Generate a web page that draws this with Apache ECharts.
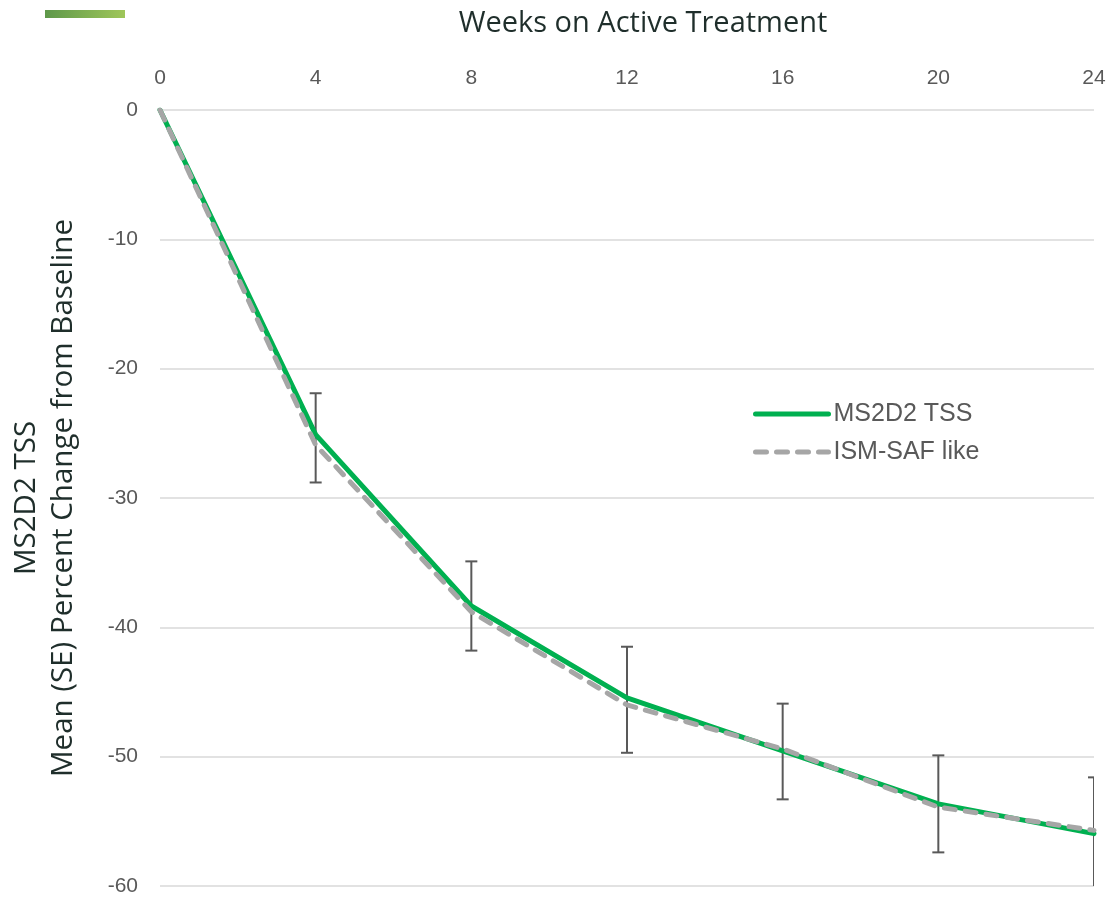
<!DOCTYPE html>
<html>
<head>
<meta charset="utf-8">
<script src="https://cdn.jsdelivr.net/npm/echarts@6/dist/echarts.min.js"></script>
<style>html,body{margin:0;padding:0;background:#fff;}#c{width:1109px;height:898px;}</style>
</head>
<body>
<div id="c"></div>
<script>
const weeks = [0, 4, 8, 12, 16, 20, 24];
const ms2d2 = [0, -25.1, -38.35, -45.45, -49.55, -53.65, -55.95];
const ismSaf = [0, -25.9, -38.8, -46.0, -49.4, -53.9, -55.7];
const seLow = [null, -28.8, -41.8, -49.7, -53.3, -57.4, -60.4];
const seHigh = [null, -21.9, -34.9, -41.5, -45.9, -49.9, -51.6];
const xTicks = [0, 4, 8, 12, 16, 20, 24];
const yTicks = [0, -10, -20, -30, -40, -50, -60];

const TITLE_FONT = 'Open Sans';
const LABEL_FONT = 'Liberation Sans';
const chart = echarts.init(document.getElementById('c'), null, {renderer: 'canvas'});

const errData = [];
weeks.forEach((w, i) => { if (seLow[i] !== null) errData.push([w, seLow[i], seHigh[i]]); });

chart.setOption({
  animation: false,
  textStyle: {fontFamily: LABEL_FONT},
  graphic: [{
    type: 'rect', left: 45, top: 10, shape: {width: 80, height: 8},
    style: {fill: new echarts.graphic.LinearGradient(0, 0, 1, 0, [
      {offset: 0, color: '#5e984a'}, {offset: 1, color: '#9fc65a'}])}
  }],
  grid: {left: 158, right: 15, top: 110, bottom: 12, containLabel: false},
  legend: {
    orient: 'vertical', left: 753, top: 401, padding: 0,
    itemWidth: 73, itemHeight: 14, itemGap: 12,
    itemStyle: {opacity: 0},
    lineStyle: {width: 5},
    textStyle: {fontSize: 25, color: '#595959', fontFamily: LABEL_FONT, lineHeight: 26},
    data: ['MS2D2 TSS', 'ISM-SAF like']
  },
  xAxis: {
    type: 'value', position: 'top', min: 0, max: 24, interval: 4,
    name: 'Weeks on Active Treatment', nameLocation: 'middle', nameGap: 72,
    nameTextStyle: {fontSize: 29, color: '#1f2e2b', fontFamily: TITLE_FONT, padding: [0, 0, 0, 32]},
    axisLine: {show: false}, axisTick: {show: false}, splitLine: {show: false},
    axisLabel: {fontSize: 21, color: '#595959', margin: 21, fontFamily: LABEL_FONT,
      formatter: v => xTicks.includes(v) ? String(v) : ''}
  },
  yAxis: {
    type: 'value', min: -60, max: 0, interval: 10,
    name: 'MS2D2 TSS\nMean (SE) Percent Change from Baseline',
    nameLocation: 'middle', nameGap: 78, nameRotate: 90,
    nameTextStyle: {fontSize: 29.5, color: '#1f2e2b', fontFamily: TITLE_FONT, lineHeight: 37, align: 'center'},
    axisLine: {show: false}, axisTick: {show: false},
    splitLine: {lineStyle: {color: '#d9d9d9', width: 1.5}},
    axisLabel: {fontSize: 21, color: '#595959', margin: 22, fontFamily: LABEL_FONT,
      formatter: v => yTicks.includes(v) ? String(v) : ''}
  },
  series: [
    {
      name: 'SE', type: 'custom', clip: true, z: 1,
      data: errData,
      renderItem: function (params, api) {
        const x = api.value(0);
        const lo = api.coord([x, api.value(1)]);
        const hi = api.coord([x, api.value(2)]);
        const hw = 6;
        const style = {stroke: '#595959', lineWidth: 2, fill: null};
        return {type: 'group', children: [
          {type: 'line', shape: {x1: lo[0], y1: lo[1], x2: hi[0], y2: hi[1]}, style},
          {type: 'line', shape: {x1: lo[0] - hw, y1: lo[1], x2: lo[0] + hw, y2: lo[1]}, style},
          {type: 'line', shape: {x1: hi[0] - hw, y1: hi[1], x2: hi[0] + hw, y2: hi[1]}, style}
        ]};
      }
    },
    {
      name: 'MS2D2 TSS', type: 'line', z: 2, symbol: 'none',
      data: weeks.map((w, i) => [w, ms2d2[i]]),
      lineStyle: {color: '#00b050', width: 5, cap: 'round'},
      itemStyle: {color: '#00b050'}
    },
    {
      name: 'ISM-SAF like', type: 'line', z: 3, symbol: 'none',
      data: weeks.map((w, i) => [w, ismSaf[i]]),
      lineStyle: {color: '#a6a6a6', width: 5, type: [11, 10], cap: 'round'},
      itemStyle: {color: '#a6a6a6'}
    }
  ]
});
</script>
</body>
</html>
